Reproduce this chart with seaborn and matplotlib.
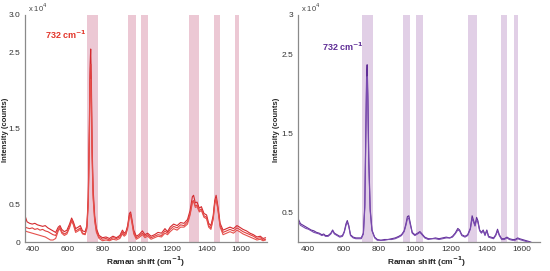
import matplotlib
matplotlib.use("Agg")
import matplotlib.pyplot as plt
import pandas as pd
import seaborn as sns

# Left panel: three red spectra (x 10^4 counts)
left_shift = [355, 365, 380, 395, 410, 425, 440, 455, 470, 485, 500, 515, 530, 545, 555, 565, 580, 595, 610,
              622, 632, 645, 660, 672, 685, 700, 710, 718, 724, 728, 732, 736, 740, 746, 755, 765, 780, 800,
              820, 840, 860, 880, 900, 915, 925, 935, 945, 955, 962, 970, 980, 995, 1010, 1030, 1045, 1060,
              1080, 1100, 1120, 1140, 1160, 1175, 1190, 1210, 1230, 1250, 1270, 1290, 1305, 1318, 1325, 1335,
              1345, 1358, 1370, 1385, 1400, 1412, 1425, 1438, 1447, 1455, 1465, 1478, 1495, 1515, 1535, 1555,
              1575, 1590, 1610, 1630, 1650, 1670, 1690, 1710, 1725, 1740]
left_a = [0.34, 0.27, 0.25, 0.24, 0.25, 0.23, 0.22, 0.21, 0.22, 0.19, 0.17, 0.15, 0.13, 0.20, 0.22, 0.17, 0.14,
          0.16, 0.24, 0.32, 0.27, 0.18, 0.20, 0.22, 0.15, 0.14, 0.22, 0.60, 1.50, 2.30, 2.55, 2.10, 1.30, 0.70,
          0.35, 0.18, 0.09, 0.06, 0.07, 0.05, 0.08, 0.06, 0.09, 0.16, 0.12, 0.14, 0.22, 0.38, 0.40, 0.30, 0.16,
          0.08, 0.10, 0.15, 0.10, 0.12, 0.08, 0.10, 0.13, 0.12, 0.18, 0.14, 0.20, 0.24, 0.22, 0.26, 0.25, 0.30,
          0.42, 0.60, 0.62, 0.52, 0.53, 0.45, 0.47, 0.38, 0.36, 0.25, 0.22, 0.35, 0.55, 0.62, 0.48, 0.25, 0.16,
          0.18, 0.20, 0.18, 0.22, 0.20, 0.17, 0.15, 0.12, 0.10, 0.07, 0.08, 0.05, 0.06]
left_b = [0.20, 0.19, 0.18, 0.19, 0.17, 0.18, 0.16, 0.17, 0.15, 0.14, 0.12, 0.10, 0.09, 0.17, 0.20, 0.14, 0.11,
          0.13, 0.21, 0.30, 0.25, 0.15, 0.17, 0.19, 0.12, 0.11, 0.20, 0.55, 1.40, 2.15, 2.35, 1.95, 1.20, 0.62,
          0.30, 0.15, 0.07, 0.04, 0.05, 0.03, 0.06, 0.05, 0.07, 0.13, 0.10, 0.12, 0.20, 0.35, 0.37, 0.27, 0.13,
          0.06, 0.08, 0.12, 0.08, 0.10, 0.06, 0.08, 0.10, 0.09, 0.15, 0.12, 0.17, 0.21, 0.19, 0.23, 0.22, 0.27,
          0.38, 0.54, 0.55, 0.48, 0.49, 0.42, 0.44, 0.35, 0.33, 0.22, 0.19, 0.32, 0.52, 0.58, 0.45, 0.22, 0.13,
          0.15, 0.17, 0.15, 0.19, 0.17, 0.14, 0.12, 0.10, 0.08, 0.05, 0.06, 0.03, 0.04]
left_c = [0.15, 0.14, 0.13, 0.12, 0.11, 0.10, 0.09, 0.08, 0.07, 0.05, 0.03, 0.03, 0.05, 0.15, 0.18, 0.12, 0.09,
          0.11, 0.19, 0.28, 0.23, 0.13, 0.15, 0.17, 0.11, 0.10, 0.18, 0.50, 1.30, 2.00, 2.15, 1.80, 1.10, 0.58,
          0.28, 0.13, 0.05, 0.02, 0.03, 0.02, 0.04, 0.03, 0.05, 0.11, 0.08, 0.10, 0.18, 0.33, 0.35, 0.25, 0.11,
          0.04, 0.06, 0.10, 0.06, 0.08, 0.04, 0.06, 0.08, 0.07, 0.12, 0.10, 0.14, 0.18, 0.16, 0.20, 0.20, 0.24,
          0.36, 0.52, 0.54, 0.46, 0.47, 0.40, 0.42, 0.33, 0.31, 0.20, 0.17, 0.30, 0.50, 0.57, 0.43, 0.20, 0.10,
          0.12, 0.14, 0.12, 0.16, 0.14, 0.11, 0.09, 0.07, 0.05, 0.03, 0.04, 0.02, 0.03]

# Right panel: two purple spectra (x 10^4 counts)
right_shift = [348, 360, 375, 390, 405, 420, 435, 450, 465, 480, 490, 500, 515, 530, 540, 550, 565, 580, 595,
               605, 615, 622, 630, 640, 655, 670, 685, 700, 712, 720, 726, 730, 733, 737, 742, 750, 760, 775,
               790, 810, 830, 850, 870, 890, 910, 925, 940, 950, 958, 966, 975, 985, 1000, 1015, 1028, 1040,
               1055, 1075, 1095, 1115, 1135, 1155, 1175, 1195, 1210, 1225, 1240, 1250, 1262, 1280, 1295, 1310,
               1320, 1328, 1336, 1345, 1352, 1362, 1372, 1382, 1392, 1402, 1412, 1425, 1440, 1452, 1462, 1472,
               1485, 1500, 1515, 1528, 1545, 1560, 1575, 1585, 1600, 1615, 1630, 1645, 1655]
right_a = [0.42, 0.36, 0.34, 0.32, 0.30, 0.28, 0.27, 0.25, 0.24, 0.22, 0.23, 0.21, 0.21, 0.24, 0.28, 0.24, 0.22,
           0.20, 0.21, 0.26, 0.36, 0.40, 0.34, 0.22, 0.19, 0.18, 0.18, 0.18, 0.24, 0.60, 1.60, 2.25, 2.37, 2.00,
           1.20, 0.55, 0.28, 0.19, 0.16, 0.15, 0.16, 0.16, 0.17, 0.18, 0.20, 0.22, 0.27, 0.36, 0.45, 0.46, 0.36,
           0.25, 0.22, 0.24, 0.26, 0.23, 0.19, 0.17, 0.17, 0.18, 0.17, 0.18, 0.19, 0.18, 0.20, 0.24, 0.30, 0.28,
           0.22, 0.20, 0.22, 0.30, 0.46, 0.40, 0.34, 0.44, 0.40, 0.28, 0.25, 0.28, 0.22, 0.28, 0.20, 0.19, 0.18,
           0.22, 0.29, 0.22, 0.17, 0.17, 0.19, 0.17, 0.16, 0.16, 0.18, 0.17, 0.16, 0.15, 0.14, 0.13, 0.12]
right_b = [0.39, 0.34, 0.32, 0.30, 0.29, 0.27, 0.25, 0.24, 0.23, 0.21, 0.22, 0.20, 0.20, 0.23, 0.27, 0.23, 0.21,
           0.19, 0.20, 0.25, 0.34, 0.38, 0.33, 0.21, 0.18, 0.17, 0.17, 0.17, 0.23, 0.56, 1.50, 2.12, 2.22, 1.90,
           1.12, 0.52, 0.27, 0.18, 0.15, 0.15, 0.15, 0.16, 0.16, 0.17, 0.19, 0.21, 0.26, 0.34, 0.42, 0.43, 0.34,
           0.24, 0.21, 0.23, 0.25, 0.22, 0.18, 0.16, 0.17, 0.17, 0.16, 0.17, 0.18, 0.18, 0.19, 0.23, 0.28, 0.27,
           0.21, 0.19, 0.21, 0.29, 0.43, 0.38, 0.33, 0.41, 0.38, 0.27, 0.24, 0.27, 0.21, 0.27, 0.19, 0.18, 0.17,
           0.21, 0.27, 0.21, 0.16, 0.16, 0.18, 0.16, 0.15, 0.15, 0.17, 0.16, 0.15, 0.14, 0.13, 0.12, 0.12]

# Highlighted bands (cm-1)
left_bands = [(710, 775), (946, 992), (1021, 1061), (1297, 1354), (1440, 1480), (1561, 1584)]
right_bands = [(702, 768), (936, 975), (1004, 1043), (1295, 1345), (1483, 1516), (1552, 1575)]

LEFT_TICKS = [0, 0.5, 1.5, 2.5, 3.0]
LEFT_TICKLABELS = ["0", "0.5", "1.5", "2.5", "3.0"]
RIGHT_TICKS = [0.5, 1.5, 2.5, 3.0]
RIGHT_TICKLABELS = ["0.5", "1.5", "2.5", "3"]
X_TICKS = [400, 600, 800, 1000, 1200, 1400, 1600]


def to_frame(shift, traces):
    rows = []
    for name, vals in traces.items():
        for s, v in zip(shift, vals):
            rows.append({"shift": s, "counts": v, "trace": name})
    return pd.DataFrame(rows)


def style_axis(ax, xlim, ylim, yticks, yticklabels):
    ax.set_xlim(*xlim)
    ax.set_ylim(*ylim)
    ax.set_xticks(X_TICKS)
    ax.set_xticklabels([str(t) for t in X_TICKS])
    ax.set_yticks(yticks)
    ax.set_yticklabels(yticklabels)
    ax.tick_params(labelsize=6, colors="#555555", labelcolor="#333333", length=2, width=0.6, pad=1.5)
    ax.tick_params(axis="x", length=0, pad=3)
    for side in ["top", "right"]:
        ax.spines[side].set_visible(False)
    for side in ["left", "bottom"]:
        ax.spines[side].set_color("#8a8a8a")
        ax.spines[side].set_linewidth(0.9)
    ax.set_xlabel("")
    ax.set_ylabel("")
    ax.text(0.01, 1.005, "x 10$^4$", transform=ax.transAxes, fontsize=5.5, color="#444444",
            ha="left", va="bottom")


def main():
    sns.set_style("white")
    plt.rcParams["font.family"] = ["Liberation Sans", "DejaVu Sans"]

    fig = plt.figure(figsize=(5.5, 2.71), dpi=100)
    ax1 = fig.add_axes([0.046, 0.106, 0.44, 0.839])
    ax2 = fig.add_axes([0.542, 0.106, 0.44, 0.839])

    # left panel
    for lo, hi in left_bands:
        ax1.axvspan(lo, hi, color="#ecc8d4", lw=0, zorder=0)
    df_left = to_frame(left_shift, {"a": left_a, "b": left_b, "c": left_c})
    sns.lineplot(data=df_left, x="shift", y="counts", hue="trace", units="trace", estimator=None, sort=False,
                 palette=["#d42a2e", "#e0403f", "#e5504c"], linewidth=0.8, legend=False, ax=ax1)
    style_axis(ax1, (355, 1750), (0, 3.0), LEFT_TICKS, LEFT_TICKLABELS)
    ax1.text(712, 2.65, "732 cm$^{\\mathbf{-1}}$", color="#e2352a", fontsize=6.5, fontweight="bold",
             ha="right", va="bottom")

    # right panel
    for lo, hi in right_bands:
        ax2.axvspan(lo, hi, color="#e1cfe6", lw=0, zorder=0)
    df_right = to_frame(right_shift, {"a": right_a, "b": right_b})
    sns.lineplot(data=df_right, x="shift", y="counts", hue="trace", units="trace", estimator=None, sort=False,
                 palette=["#5f2d96", "#7a4bb0"], linewidth=0.8, legend=False, ax=ax2)
    style_axis(ax2, (347, 1700), (0.125, 3.0), RIGHT_TICKS, RIGHT_TICKLABELS)
    ax2.text(712, 2.52, "732 cm$^{\\mathbf{-1}}$", color="#5f2d96", fontsize=6.5, fontweight="bold",
             ha="right", va="bottom")

    # axis titles
    for x in [0.264, 0.776]:
        fig.text(x, 0.035, "Raman shift (cm$^{\\mathbf{-1}}$)", fontsize=6, fontweight="bold",
                 ha="center", va="center")
    for x in [0.010, 0.503]:
        fig.text(x, 0.52, "Intensity (counts)", fontsize=5.5, fontweight="bold", rotation=90,
                 ha="center", va="center")

    fig.savefig("out.png", dpi=100)


if __name__ == "__main__":
    main()
